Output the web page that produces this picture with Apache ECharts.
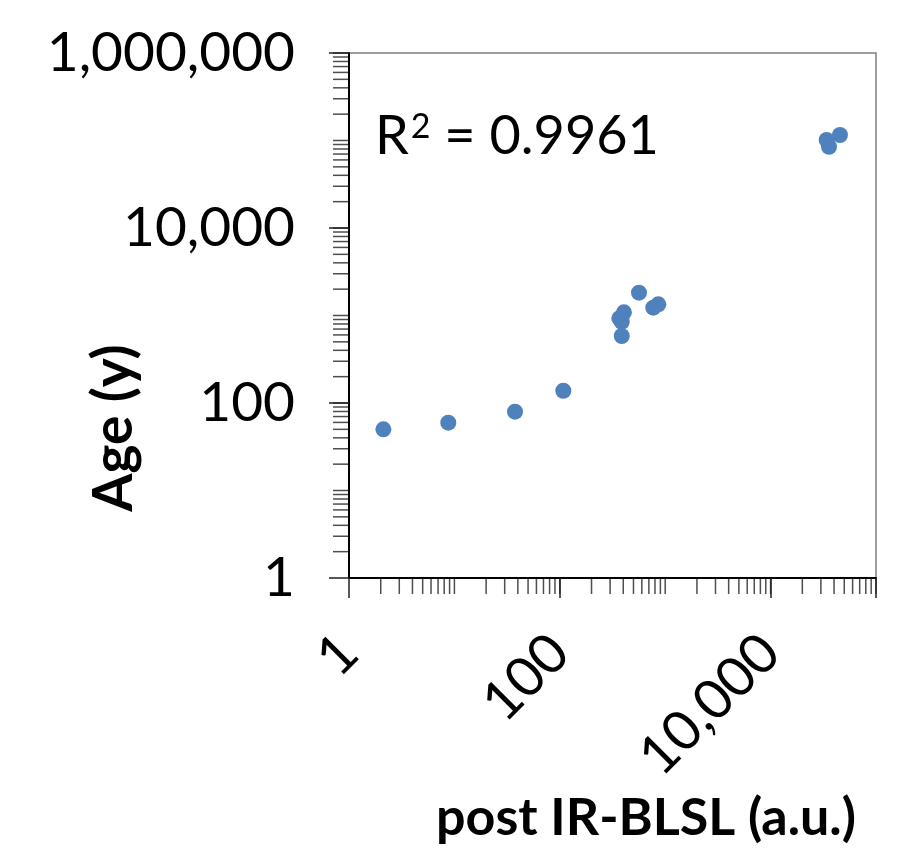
<!DOCTYPE html>
<html>
<head>
<meta charset="utf-8">
<script src="https://cdn.jsdelivr.net/npm/echarts@6/dist/echarts.min.js"></script>
<style>html,body{margin:0;padding:0;background:#fff}#c{width:920px;height:862px}</style>
</head>
<body>
<div id="c"></div>
<script>
// post IR-BLSL (a.u.) vs Age (y)
var blsl = [2.12, 8.75, 37.6, 108, 387, 367, 406, 387, 564, 771, 860, 34050, 35810, 45520];
var age  = [50.0, 59.6, 79.6, 138, 583, 929, 1088, 849, 1823, 1228, 1342, 101400, 84900, 115600];
var xTickLabels = [1, 100, 10000];
var yTickLabels = [1, 100, 10000, 1000000];
var rSquared = '0.9961';
var minorMultipliers = [2, 3, 4, 5, 6, 7, 8, 9, 10];
var xDecades = [1, 10, 100, 1000, 10000];
var yDecades = [1, 10, 100, 1000, 10000, 100000];

var points = blsl.map(function (v, i) { return [v, age[i]]; });
var xMinor = [], yMinor = [];
xDecades.forEach(function (d) { minorMultipliers.forEach(function (m) { xMinor.push([m * d, 1]); }); });
yDecades.forEach(function (d) { minorMultipliers.forEach(function (m) { yMinor.push([1, m * d]); }); });

function fmt(v) { return Math.round(v).toLocaleString('en-US'); }

var chart = echarts.init(document.getElementById('c'), null, {renderer: 'canvas'});
var font = 'Lato';
chart.setOption({
  animation: false,
  backgroundColor: '#fff',
  grid: {left: 349, top: 53, width: 527, height: 525, show: true, borderColor: '#7f7f7f', borderWidth: 1.5, containLabel: false},
  xAxis: {
    type: 'log', logBase: 100, min: 1, max: 100000, interval: 1,
    axisLine: {show: true, onZero: false, lineStyle: {color: '#000', width: 2}},
    axisTick: {show: true, length: 20, lineStyle: {color: '#222', width: 1.5}},
    splitLine: {show: false},
    axisLabel: {
      rotate: 45, margin: 66, color: '#000', fontFamily: font, fontSize: 55,
      formatter: function (v) { return xTickLabels.indexOf(Math.round(v)) >= 0 ? fmt(v) : ''; }
    }
  },
  yAxis: {
    type: 'log', logBase: 100, min: 1, max: 1000000, interval: 1,
    axisLine: {show: true, onZero: false, lineStyle: {color: '#000', width: 2}},
    axisTick: {show: true, length: 20, lineStyle: {color: '#222', width: 1.5}},
    splitLine: {show: false},
    axisLabel: {
      margin: 54, color: '#000', fontFamily: font, fontSize: 55, showMaxLabel: true,
      formatter: function (v) { return yTickLabels.indexOf(Math.round(v)) >= 0 ? fmt(v) : ''; }
    }
  },
  series: [
    {type: 'scatter', data: xMinor, symbol: 'rect', symbolSize: [1.5, 15], symbolOffset: [0, 8.5],
     itemStyle: {color: '#222'}, silent: true, clip: false, z: 1},
    {type: 'scatter', data: yMinor, symbol: 'rect', symbolSize: [15, 1.5], symbolOffset: [-8.5, 0],
     itemStyle: {color: '#222'}, silent: true, clip: false, z: 1},
    {type: 'scatter', data: points, symbol: 'circle', symbolSize: 16,
     itemStyle: {color: '#4F81BD', opacity: 1}, z: 3}
  ],
  graphic: [
    {type: 'text', left: 375, top: 110, style: {
      text: '{n|R}{s|2}{n| = ' + rSquared + '}',
      rich: {
        n: {fontFamily: 'Lato', fontSize: 54, fill: '#000', color: '#000'},
        s: {fontFamily: 'Lato', fontSize: 34, fill: '#000', color: '#000', verticalAlign: 'top', padding: [0, 0, 0, 2]}
      }
    }},
    {type: 'text', x: 114, y: 428, rotation: Math.PI / 2,
     style: {text: 'Age (y)', font: 'bold 55px Lato', fill: '#000', align: 'center', verticalAlign: 'middle'}},
    {type: 'text', x: 646, y: 818,
     style: {text: 'post IR-BLSL (a.u.)', font: 'bold 52px Lato', fill: '#000', align: 'center', verticalAlign: 'middle'}}
  ]
});
</script>
</body>
</html>
